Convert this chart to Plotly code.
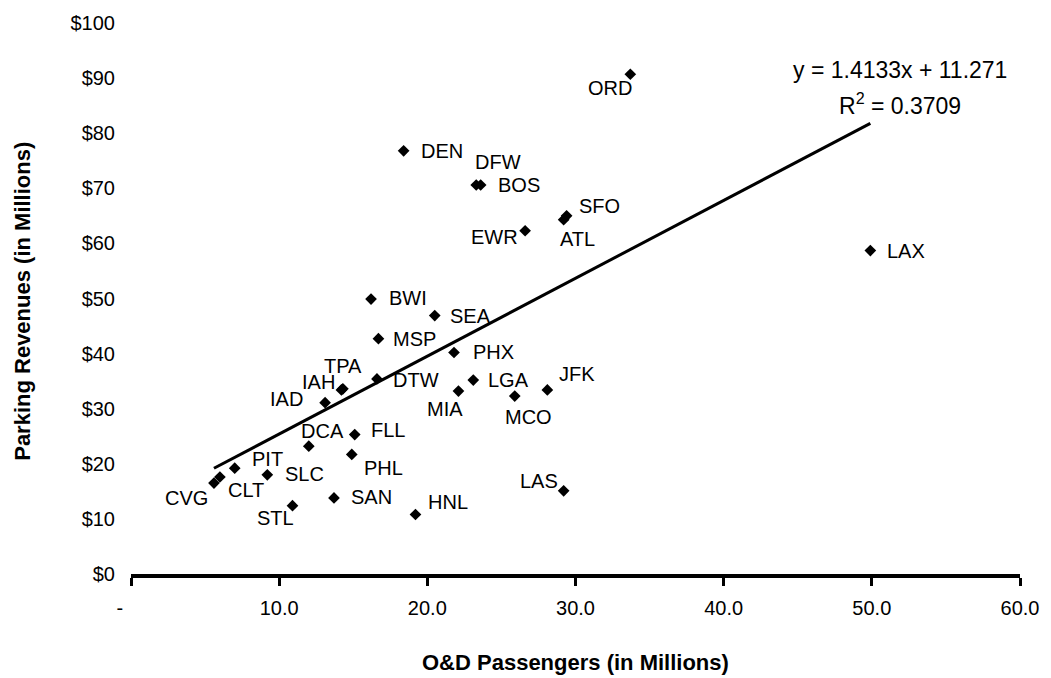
import plotly.graph_objects as go

# ---- data ----
airports = ["ORD", "DEN", "DFW", "BOS", "SFO", "ATL", "EWR", "LAX", "BWI", "SEA",
            "MSP", "PHX", "TPA", "IAH", "IAD", "DTW", "LGA", "MIA", "JFK", "MCO",
            "LAS", "FLL", "DCA", "PHL", "PIT", "SLC", "CLT", "CVG", "SAN", "STL", "HNL"]
passengers = [33.7, 18.4, 23.3, 23.6, 29.4, 29.2, 26.6, 49.9, 16.2, 20.5,
              16.7, 21.8, 14.3, 14.2, 13.1, 16.6, 23.1, 22.1, 28.1, 25.9,
              29.2, 15.1, 12.0, 14.9, 7.0, 9.2, 6.0, 5.6, 13.7, 10.9, 19.2]
revenues = [90.7, 76.8, 70.6, 70.6, 65.0, 64.3, 62.3, 58.7, 49.9, 46.9,
            42.7, 40.2, 33.6, 33.4, 31.1, 35.4, 35.2, 33.2, 33.4, 32.3,
            15.1, 25.3, 23.2, 21.7, 19.2, 18.0, 17.6, 16.5, 13.8, 12.4, 10.8]

slope = 1.4133
intercept = 11.271
r_squared = 0.3709

x_tick_vals = [0, 10, 20, 30, 40, 50, 60]
x_tick_text = ["-\u00a0\u00a0\u00a0\u00a0", "10.0", "20.0", "30.0", "40.0", "50.0", "60.0"]
y_tick_vals = [0, 10, 20, 30, 40, 50, 60, 70, 80, 90, 100]
y_tick_text = ["$0", "$10", "$20", "$30", "$40", "$50", "$60", "$70", "$80", "$90", "$100"]

x_title = "O&D Passengers (in Millions)"
y_title = "Parking Revenues (in Millions)"

# label placement (screen-pixel offsets of the label centre from its marker; +dy = down)
label_offsets = {
    "ORD": (-20, 14), "DEN": (38, 0), "DFW": (22, -23), "BOS": (38, 0),
    "SFO": (33, -10), "ATL": (14, 19), "EWR": (-31, 6), "LAX": (36, 0),
    "BWI": (37, -1), "SEA": (36, 0), "MSP": (36, 0), "PHX": (39, -1),
    "TPA": (0, -23), "IAH": (-23, -8), "IAD": (-39, -4), "DTW": (39, 1),
    "LGA": (35, 0), "MIA": (-13, 18), "JFK": (30, -16), "MCO": (14, 21),
    "LAS": (-25, -10), "FLL": (33, -5), "DCA": (14, -15), "PHL": (32, 14),
    "PIT": (33, -9), "SLC": (37, -1), "CLT": (26, 13), "CVG": (-27, 15),
    "SAN": (38, -1), "STL": (-17, 12), "HNL": (33, -12),
}

FONT = "Liberation Sans, Arial, Helvetica, sans-serif"

fig = go.Figure()

# trendline from the fitted equation across the data range
x_lo, x_hi = min(passengers), max(passengers)
fig.add_trace(go.Scatter(
    x=[x_lo, x_hi], y=[slope * x_lo + intercept, slope * x_hi + intercept],
    mode="lines", line=dict(color="black", width=3), hoverinfo="skip", showlegend=False,
))

fig.add_trace(go.Scatter(
    x=passengers, y=revenues, mode="markers", text=airports,
    marker=dict(symbol="diamond", size=9, color="black", line=dict(width=0)),
    showlegend=False,
))

annotations = []
for name, xv, yv in zip(airports, passengers, revenues):
    dx, dy = label_offsets[name]
    annotations.append(dict(
        x=xv, y=yv, xref="x", yref="y", text=name, showarrow=False,
        xshift=dx, yshift=-dy, xanchor="center", yanchor="middle",
        font=dict(family=FONT, size=20, color="black"),
    ))

annotations.append(dict(
    x=51.9, y=91.5, xref="x", yref="y", showarrow=False, xanchor="center", yanchor="middle",
    text=f"y = {slope}x + {intercept}",
    font=dict(family=FONT, size=23, color="black"),
))
annotations.append(dict(
    x=51.9, y=85.3, xref="x", yref="y", showarrow=False, xanchor="center", yanchor="middle",
    text=f"R<sup>2</sup> = {r_squared}",
    font=dict(family=FONT, size=23, color="black"),
))

annotations.append(dict(
    x=0.5, y=-0.16, xref="paper", yref="paper", showarrow=False,
    xanchor="center", yanchor="middle", text=f"<b>{x_title}</b>",
    font=dict(family=FONT, size=22, color="black"),
))
annotations.append(dict(
    x=-0.122, y=0.495, xref="paper", yref="paper", showarrow=False, textangle=-90,
    xanchor="center", yanchor="middle", text=f"<b>{y_title}</b>",
    font=dict(family=FONT, size=22, color="black"),
))

fig.update_layout(
    width=1051, height=678,
    margin=dict(l=131, r=25, t=15, b=104),
    paper_bgcolor="white", plot_bgcolor="white",
    font=dict(family=FONT, color="black"),
    annotations=annotations,
    xaxis=dict(
        range=[0, 60], tickvals=x_tick_vals, ticktext=x_tick_text,
        ticks="outside", ticklen=8, tickwidth=3, tickcolor="black",
        showline=True, linewidth=4, linecolor="black",
        showgrid=False, zeroline=False, ticklabelstandoff=5,
        tickfont=dict(family=FONT, size=20, color="black"),
    ),
    yaxis=dict(
        range=[0, 100], tickvals=y_tick_vals, ticktext=y_tick_text,
        ticks="", showline=False, showgrid=False, zeroline=False,
        ticklabelstandoff=15,
        tickfont=dict(family=FONT, size=20, color="black"),
    ),
)

fig.write_html("out.html")
